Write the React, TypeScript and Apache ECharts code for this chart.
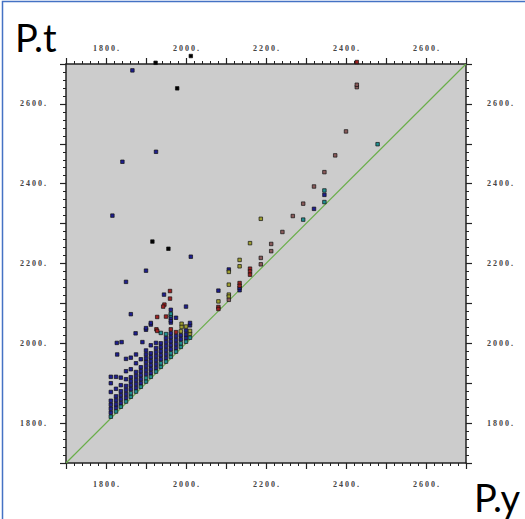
import React, { useEffect, useRef } from "react";
import * as echarts from "echarts";

const axisMin = 1700;
const axisMax = 2700;
const tickStep = 100;
const labelValues = [1800, 2000, 2200, 2400, 2600];

const navyPoints: number[][] = [
  [1812, 1826], [1812, 1836], [1812, 1846], [1812, 1856], [1812, 1878], [1812, 1900], [1812, 1916],
  [1825, 1838], [1825, 1847], [1825, 1857], [1825, 1867], [1825, 1886], [1825, 1916],
  [1837, 1850], [1837, 1860], [1837, 1870], [1837, 1880], [1837, 1895], [1837, 1914],
  [1850, 1863], [1850, 1873], [1850, 1883], [1850, 1893], [1850, 1910], [1850, 1930],
  [1862, 1885], [1862, 1895], [1862, 1905], [1862, 1915], [1862, 1935], [1862, 1964],
  [1875, 1888], [1875, 1898], [1875, 1908], [1875, 1918], [1875, 1928], [1875, 1950], [1875, 1972],
  [1887, 1900], [1887, 1910], [1887, 1920], [1887, 1930], [1887, 1940], [1887, 1960],
  [1900, 1923], [1900, 1933], [1900, 1943], [1900, 1953], [1900, 1962], [1900, 1972], [1900, 1982], [1900, 2034], [1900, 2038],
  [1912, 1925], [1912, 1935], [1912, 1945], [1912, 1955], [1912, 1965], [1912, 1975], [1912, 1995], [1912, 2047], [1912, 2051],
  [1925, 1938], [1925, 1948], [1925, 1958], [1925, 1968], [1925, 1978], [1925, 1988], [1925, 2001],
  [1937, 1960], [1937, 1970], [1937, 1980], [1937, 1990], [1937, 2000],
  [1950, 1963], [1950, 1973], [1950, 1983], [1950, 1993], [1950, 2003], [1950, 2013],
  [1962, 1985], [1962, 1995], [1962, 2005], [1962, 2015], [1962, 2025], [1962, 2052], [1962, 2057], [1962, 2064], [1962, 2084],
  [1975, 1988], [1975, 1998], [1975, 2008], [1975, 2018], [1975, 2064],
  [1987, 2010], [1987, 2020],
  [2000, 2013], [2000, 2022], [2000, 2032], [2000, 2092],
  [2010, 2045], [2010, 2051],
  [1850, 2154], [1862, 2073], [1874, 2025], [1827, 2001], [1839, 2003], [1828, 1972], [1850, 1961],
  [1891, 2003], [1945, 2122], [2081, 2132], [2107, 2185], [1816, 2320], [1841, 2455], [1925, 2480],
  [1866, 2684], [1900, 2182], [2012, 2217], [2320, 2337], [2346, 2372], [2134, 2133], [2134, 2139],
];

const tealPoints: number[][] = [
  [1812, 1816], [1825, 1829], [1837, 1841], [1850, 1854], [1862, 1866], [1875, 1879], [1887, 1891],
  [1900, 1904], [1912, 1916], [1925, 1929], [1937, 1941], [1950, 1954], [1962, 1966], [1975, 1979],
  [1987, 1991], [2000, 2004], [2010, 2014],
  [1862, 1875], [1900, 1913], [1937, 1950], [1962, 1975], [1987, 2000],
  [1937, 2026], [1950, 2023], [1962, 2070], [1962, 2074],
  [2293, 2310], [2346, 2383], [2346, 2354], [2479, 2499],
];

const redPoints: number[][] = [
  [1960, 2131], [1960, 2112], [1946, 2097], [1943, 2092], [1950, 2067], [1928, 2066],
  [1926, 2035], [1928, 2031], [2160, 2187], [2160, 2180], [2160, 2172], [2134, 2151],
  [2134, 2144], [2081, 2091], [2081, 2086], [1962, 2035], [1975, 2028], [2427, 2705],
];

const olivePoints: number[][] = [
  [2187, 2312], [2160, 2251], [2134, 2209], [2134, 2193], [2107, 2179], [2107, 2147],
  [2107, 2122], [2107, 2117], [2081, 2105], [1989, 2049], [1989, 2041], [2010, 2024],
  [2010, 2031], [1987, 2030], [2000, 2042],
];

const brownPoints: number[][] = [
  [2267, 2319], [2241, 2279], [2213, 2249], [2213, 2231], [2187, 2214], [2187, 2198],
  [2293, 2350], [2320, 2393], [2346, 2429], [2373, 2471], [2400, 2531], [2427, 2642],
  [2427, 2648], [2107, 2109],
];

const blackPoints: number[][] = [
  [1916, 2255], [1956, 2237], [1978, 2639], [1924, 2703], [2012, 2720],
];

const diagonal: number[][] = [
  [axisMin, axisMin],
  [axisMax, axisMax],
];

const spaced = (v: number) =>
  labelValues.includes(v) ? String(v).split("").join(" ") + " ." : "";

function makeAxis(position: string, margin: number) {
  return {
    type: "value",
    position,
    min: axisMin,
    max: axisMax,
    interval: tickStep,
    axisLine: { show: true, onZero: false, lineStyle: { color: "#222", width: 1.5 } },
    axisTick: { show: true, length: 6, lineStyle: { color: "#222", width: 1.2 } },
    minorTick: { show: true, splitNumber: 5, length: 3, lineStyle: { color: "#222", width: 1 } },
    splitLine: { show: false },
    axisLabel: {
      show: true,
      margin,
      formatter: spaced,
      color: "#444",
      fontFamily: "Liberation Serif",
      fontWeight: "bold",
      fontSize: 8,
    },
  };
}

function scatter(data: number[][], color: string) {
  return {
    type: "scatter",
    data,
    symbol: "rect",
    symbolSize: 3.5,
    clip: false,
    itemStyle: { color, borderColor: "#111", borderWidth: 0.7, opacity: 1 },
    z: 3,
  };
}

export default function App() {
  const ref = useRef<HTMLDivElement>(null);
  useEffect(() => {
    document.body.style.margin = "0";
    const chart = echarts.init(ref.current!, null, { renderer: "svg" });
    chart.setOption({
      animation: false,
      backgroundColor: "#ffffff",
      grid: {
        left: 66,
        top: 64,
        width: 400,
        height: 399,
        show: true,
        backgroundColor: "#cccccc",
        borderWidth: 0,
      },
      xAxis: [makeAxis("bottom", 17), makeAxis("top", 12)],
      yAxis: [makeAxis("left", 20), makeAxis("right", 21)],
      series: [
        {
          type: "line",
          data: diagonal,
          symbol: "none",
          lineStyle: { color: "#6aae4a", width: 1.2 },
          z: 2,
        },
        scatter(navyPoints, "#1e1e90"),
        scatter(tealPoints, "#1f9090"),
        scatter(redPoints, "#a02020"),
        scatter(olivePoints, "#a0a030"),
        scatter(brownPoints, "#8a5a5a"),
        scatter(blackPoints, "#000000"),
      ],
      graphic: [
        {
          type: "rect",
          shape: { x: 2.5, y: 1.5, width: 700, height: 700 },
          style: { fill: "none", stroke: "#4472c4", lineWidth: 1.5 },
          z: 10,
        },
        {
          type: "text",
          style: {
            text: "P.t",
            x: 15,
            y: 37,
            font: "38px Lato",
            fill: "#000",
            verticalAlign: "middle",
          },
        },
        {
          type: "text",
          style: {
            text: "P.y",
            x: 474,
            y: 497,
            font: "38px Lato",
            fill: "#000",
            verticalAlign: "middle",
          },
        },
      ],
    });
    return () => chart.dispose();
  }, []);
  return <div ref={ref} style={{ width: 525, height: 519 }} />;
}
